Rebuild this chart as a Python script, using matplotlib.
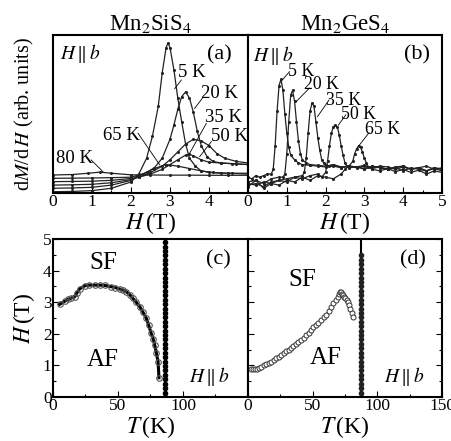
import matplotlib
matplotlib.use("Agg")
import matplotlib.pyplot as plt
import numpy as np
from matplotlib.ticker import MultipleLocator

plt.rcParams['font.family'] = 'serif'
plt.rcParams['font.serif'] = ['Liberation Serif', 'DejaVu Serif']
plt.rcParams['mathtext.fontset'] = 'stix'

# (a) Mn2SiS4, dM/dH vs H
a_temps = ['5 K', '20 K', '35 K', '50 K', '65 K', '80 K']
a_h = [
    [0, 0.5, 1.0, 1.5, 2.0, 2.2, 2.4, 2.55, 2.7, 2.8, 2.9, 2.95, 3.0, 3.1, 3.2, 3.3, 3.4, 3.5, 3.65, 3.8, 4.0, 4.3, 4.6, 5.0],
    [0, 0.5, 1.0, 1.5, 2.0, 2.2, 2.4, 2.6, 2.8, 3.0, 3.1, 3.2, 3.3, 3.4, 3.5, 3.6, 3.7, 3.8, 3.95, 4.1, 4.3, 4.6, 5.0],
    [0, 0.5, 1.0, 1.5, 2.0, 2.2, 2.5, 2.8, 3.0, 3.2, 3.4, 3.6, 3.8, 4.0, 4.2, 4.4, 4.7, 5.0],
    [0, 0.5, 1.0, 1.5, 2.0, 2.2, 2.5, 2.8, 3.0, 3.2, 3.4, 3.5, 3.6, 3.8, 4.0, 4.3, 4.7, 5.0],
    [0, 0.5, 1.0, 1.5, 2.0, 2.3, 2.6, 2.9, 3.2, 3.5, 3.8, 4.1, 4.5, 5.0],
    [0, 0.5, 0.9, 1.2, 1.5, 2.0, 2.5, 3.0, 3.5, 4.0, 4.5, 5.0],
]
a_y = [
    [0.008, 0.01, 0.015, 0.03, 0.07, 0.12, 0.22, 0.36, 0.55, 0.76, 0.92, 0.95, 0.92, 0.78, 0.60, 0.45, 0.31, 0.22, 0.17, 0.14, 0.13, 0.125, 0.125, 0.125],
    [0.03, 0.032, 0.036, 0.05, 0.08, 0.11, 0.13, 0.16, 0.22, 0.34, 0.43, 0.53, 0.61, 0.64, 0.60, 0.51, 0.39, 0.30, 0.23, 0.20, 0.19, 0.185, 0.18],
    [0.05, 0.052, 0.055, 0.065, 0.085, 0.10, 0.13, 0.17, 0.21, 0.26, 0.31, 0.34, 0.33, 0.30, 0.25, 0.22, 0.20, 0.19],
    [0.072, 0.073, 0.075, 0.08, 0.092, 0.10, 0.12, 0.15, 0.18, 0.21, 0.24, 0.245, 0.235, 0.21, 0.195, 0.19, 0.185, 0.18],
    [0.093, 0.094, 0.095, 0.097, 0.10, 0.12, 0.155, 0.18, 0.17, 0.155, 0.14, 0.13, 0.125, 0.12],
    [0.114, 0.117, 0.125, 0.132, 0.125, 0.115, 0.114, 0.113, 0.113, 0.112, 0.112, 0.112],
]
# label text position, leader start, leader end (H, arb.)
a_lab_xy = [(3.55, 0.76), (4.27, 0.63), (4.36, 0.48), (4.53, 0.356), (1.75, 0.367), (0.56, 0.22)]
a_lead = [((3.29, 0.715), (3.12, 0.66)), ((3.83, 0.60), (3.63, 0.535)), ((3.93, 0.44), (3.5, 0.25)),
          ((4.06, 0.325), (3.76, 0.23)), ((2.18, 0.378), (2.74, 0.177)), ((0.98, 0.209), (1.28, 0.135))]

# (b) Mn2GeS4, dM/dH vs H
b_temps = ['5 K', '20 K', '35 K', '50 K', '65 K']
b_h = [
    [0, 0.1, 0.2, 0.3, 0.4, 0.5, 0.6, 0.65, 0.7, 0.75, 0.8, 0.85, 0.9, 0.95, 1.0, 1.05, 1.1, 1.2, 1.3, 1.4, 1.6, 1.8, 2.0, 2.2, 2.4, 2.6, 2.8, 3.0, 3.2, 3.4, 3.6, 3.8, 4.0, 4.2, 4.4, 4.6, 4.8, 5.0],
    [0, 0.2, 0.4, 0.6, 0.8, 0.9, 0.95, 1.0, 1.05, 1.1, 1.15, 1.2, 1.25, 1.3, 1.35, 1.4, 1.5, 1.6, 1.8, 2.0, 2.2, 2.4, 2.6, 2.8, 3.0, 3.2, 3.4, 3.6, 3.8, 4.0, 4.2, 4.4, 4.6, 4.8, 5.0],
    [0, 0.2, 0.4, 0.6, 0.8, 1.0, 1.2, 1.4, 1.45, 1.5, 1.55, 1.6, 1.65, 1.7, 1.75, 1.8, 1.85, 1.9, 1.95, 2.0, 2.1, 2.2, 2.4, 2.6, 2.8, 3.0, 3.2, 3.4, 3.6, 3.8, 4.0, 4.2, 4.4, 4.6, 4.8, 5.0],
    [0, 0.2, 0.4, 0.6, 0.8, 1.0, 1.2, 1.4, 1.6, 1.8, 1.9, 2.0, 2.05, 2.1, 2.15, 2.2, 2.25, 2.3, 2.35, 2.4, 2.45, 2.5, 2.55, 2.6, 2.8, 3.0, 3.2, 3.4, 3.6, 3.8, 4.0, 4.2, 4.4, 4.6, 4.8, 5.0],
    [0, 0.2, 0.4, 0.6, 0.8, 1.0, 1.2, 1.4, 1.6, 1.8, 2.0, 2.2, 2.4, 2.5, 2.6, 2.7, 2.75, 2.8, 2.85, 2.9, 2.95, 3.0, 3.05, 3.1, 3.2, 3.4, 3.6, 3.8, 4.0, 4.2, 4.4, 4.6, 4.8, 5.0],
]
b_y = [
    [0.10, 0.09, 0.11, 0.10, 0.11, 0.12, 0.12, 0.15, 0.30, 0.52, 0.68, 0.72, 0.65, 0.50, 0.38, 0.29, 0.24, 0.21, 0.19, 0.18, 0.175, 0.17, 0.165, 0.17, 0.16, 0.17, 0.165, 0.175, 0.16, 0.17, 0.165, 0.15, 0.165, 0.15, 0.16, 0.14, 0.16, 0.15],
    [0.07, 0.08, 0.06, 0.09, 0.10, 0.10, 0.12, 0.25, 0.45, 0.62, 0.65, 0.58, 0.45, 0.33, 0.25, 0.21, 0.19, 0.18, 0.175, 0.17, 0.18, 0.165, 0.17, 0.16, 0.17, 0.155, 0.165, 0.15, 0.16, 0.17, 0.15, 0.16, 0.17, 0.15, 0.16],
    [0.06, 0.05, 0.07, 0.06, 0.08, 0.09, 0.10, 0.11, 0.13, 0.22, 0.38, 0.52, 0.57, 0.55, 0.45, 0.35, 0.27, 0.21, 0.19, 0.18, 0.17, 0.18, 0.16, 0.17, 0.165, 0.15, 0.17, 0.16, 0.15, 0.165, 0.17, 0.15, 0.16, 0.14, 0.16, 0.15],
    [0.05, 0.06, 0.04, 0.07, 0.08, 0.07, 0.10, 0.09, 0.11, 0.12, 0.10, 0.13, 0.20, 0.30, 0.38, 0.42, 0.43, 0.42, 0.37, 0.30, 0.24, 0.19, 0.17, 0.16, 0.165, 0.155, 0.17, 0.16, 0.15, 0.16, 0.14, 0.16, 0.15, 0.14, 0.155, 0.14],
    [0.04, 0.08, 0.03, 0.06, 0.05, 0.08, 0.07, 0.10, 0.08, 0.11, 0.10, 0.09, 0.12, 0.15, 0.17, 0.20, 0.25, 0.28, 0.30, 0.29, 0.26, 0.22, 0.19, 0.165, 0.15, 0.14, 0.155, 0.135, 0.15, 0.13, 0.145, 0.12, 0.14, 0.13],
]
b_lab_xy = [(1.37, 0.772), (1.89, 0.684), (2.46, 0.585), (2.84, 0.498), (3.46, 0.405)]
b_lead = [((1.07, 0.768), (0.9, 0.72)), ((1.58, 0.663), (1.24, 0.578)), ((2.09, 0.589), (1.79, 0.483)),
          ((2.52, 0.494), (2.33, 0.43)), ((3.12, 0.382), (2.86, 0.30))]

# (c) Mn2SiS4 phase diagram
c_T = [5.1, 9, 11.5, 14, 16.7, 18.5, 20.5, 24.4, 28, 32, 36, 40, 44.9, 48, 51.3, 54, 56.4, 59, 61.5, 64, 66.7, 69, 71.8, 73.5, 75.6, 77, 78.2, 79.5, 80.8, 81.5]
c_H = [2.93, 3.03, 3.09, 3.13, 3.17, 3.30, 3.42, 3.52, 3.54, 3.54, 3.54, 3.53, 3.49, 3.46, 3.42, 3.38, 3.33, 3.24, 3.12, 3.0, 2.86, 2.70, 2.49, 2.28, 2.01, 1.85, 1.65, 1.40, 1.12, 0.61]
c_TN = 85.9

# (d) Mn2GeS4 phase diagram
d_T = [2.6, 4, 5.5, 7, 8.5, 10.3, 12, 14, 16, 17.9, 20, 22, 23.8, 25.6, 27.5, 29.5, 31.4, 33.3, 35, 37, 39, 41, 43, 45, 47, 48.7, 50.5, 52.5, 54.5, 56.4, 58.5, 60.5, 62.3, 64.1, 66, 67.9, 69.5, 70.5, 71.3, 72, 72.8, 73.6, 74.4, 75.3, 76.2, 77.2, 78.2, 79.2, 80.3, 81.5]
d_H = [0.886, 0.886, 0.89, 0.90, 0.92, 0.96, 1.0, 1.06, 1.09, 1.12, 1.18, 1.23, 1.28, 1.33, 1.39, 1.45, 1.49, 1.54, 1.60, 1.67, 1.73, 1.80, 1.87, 1.95, 2.04, 2.12, 2.20, 2.27, 2.35, 2.44, 2.52, 2.61, 2.73, 2.86, 2.96, 3.07, 3.17, 3.25, 3.33, 3.31, 3.27, 3.22, 3.17, 3.12, 3.06, 3.0, 2.91, 2.80, 2.67, 2.54]
d_TN = 87.2

tn_h = np.arange(0, 5.01, 0.14)

fig = plt.figure(figsize=(4.52, 4.41), dpi=100)
W, Hh = 452.0, 441.0
ax_a = fig.add_axes([53 / W, 1 - 193 / Hh, 195 / W, 158 / Hh])
ax_b = fig.add_axes([248 / W, 1 - 193 / Hh, 194 / W, 158 / Hh])
ax_c = fig.add_axes([53 / W, 1 - 397 / Hh, 195 / W, 158 / Hh])
ax_d = fig.add_axes([248 / W, 1 - 397 / Hh, 194 / W, 158 / Hh])

for ax in (ax_a, ax_b, ax_c, ax_d):
    for s in ax.spines.values():
        s.set_linewidth(1.5)
    ax.tick_params(which='both', direction='in', labelsize=12.5, width=0.8)
    ax.tick_params(which='major', length=4)
    ax.tick_params(which='minor', length=2.5)

lab_fs = 13.5
hb = r"$H\,\|\,b$"

# panel (a)
for h, y in zip(a_h, a_y):
    ax_a.plot(h, y, color='#222222', lw=0.9, marker='o', ms=1.2)
for t, xy, (p0, p1) in zip(a_temps, a_lab_xy, a_lead):
    ax_a.text(xy[0], xy[1], t, fontsize=lab_fs, ha='center', va='center')
    ax_a.plot([p0[0], p1[0]], [p0[1], p1[1]], color='black', lw=0.6)
ax_a.set_xlim(0, 5)
ax_a.set_ylim(0, 1)
ax_a.set_yticks([])
ax_a.xaxis.set_major_locator(MultipleLocator(1))
ax_a.xaxis.set_minor_locator(MultipleLocator(0.5))
ax_a.set_xticks([0, 1, 2, 3, 4])
ax_a.tick_params(axis='x', pad=1)
ax_a.text(0.69, 0.884, hb, fontsize=14, ha='center', va='center')
ax_a.text(4.27, 0.873, '(a)', fontsize=16, ha='center', va='center')
ax_a.set_title(r"Mn$_2$SiS$_4$", fontsize=16.5, pad=3)
ax_a.set_xlabel(r"$H\,$(T)", fontsize=17, labelpad=0)
ax_a.set_ylabel(r"d$M$/d$\,H$ (arb. units)", fontsize=14.5, labelpad=12)

# panel (b)
for h, y in zip(b_h, b_y):
    ax_b.plot(h, y, color='#222222', lw=0.9, marker='o', ms=1.2)
for t, xy, (p0, p1) in zip(b_temps, b_lab_xy, b_lead):
    ax_b.text(xy[0], xy[1], t, fontsize=12.8, ha='center', va='center')
    ax_b.plot([p0[0], p1[0]], [p0[1], p1[1]], color='black', lw=0.6)
ax_b.set_xlim(0, 5)
ax_b.set_ylim(0, 1)
ax_b.set_yticks([])
ax_b.xaxis.set_major_locator(MultipleLocator(1))
ax_b.xaxis.set_minor_locator(MultipleLocator(0.5))
ax_b.tick_params(axis='x', pad=1)
ax_b.text(0.64, 0.873, hb, fontsize=14, ha='center', va='center')
ax_b.text(4.36, 0.873, '(b)', fontsize=16, ha='center', va='center')
ax_b.set_title(r"Mn$_2$GeS$_4$", fontsize=16.5, pad=3)
ax_b.set_xlabel(r"$H\,$(T)", fontsize=17, labelpad=0)

# panel (c)
ax_c.plot(c_T, c_H, color='black', lw=2.2, zorder=2)
ax_c.plot(c_T, c_H, ls='none', marker='o', ms=4, mfc='none', mec='#555555', mew=0.8, zorder=3)
ax_c.plot([c_TN] * len(tn_h), tn_h, color='black', lw=2.2, marker='o', ms=3)
ax_c.axvline(c_TN, color='black', lw=2.2)
ax_c.set_xlim(0, 150)
ax_c.set_ylim(0, 5)
ax_c.xaxis.set_major_locator(MultipleLocator(50))
ax_c.xaxis.set_minor_locator(MultipleLocator(25))
ax_c.set_xticks([0, 50, 100])
ax_c.yaxis.set_major_locator(MultipleLocator(1))
ax_c.yaxis.set_minor_locator(MultipleLocator(0.5))
ax_c.tick_params(axis='both', pad=1)
ax_c.text(127, 4.34, '(c)', fontsize=16, ha='center', va='center')
ax_c.text(38.5, 4.23, 'SF', fontsize=18, ha='center', va='center')
ax_c.text(38.5, 1.17, 'AF', fontsize=18, ha='center', va='center')
ax_c.text(120.5, 0.64, hb, fontsize=14, ha='center', va='center')
ax_c.set_xlabel(r"$T\,$(K)", fontsize=17, labelpad=0)
ax_c.set_ylabel(r"$H\,$(T)", fontsize=17, labelpad=4)

# panel (d)
ax_d.plot(d_T, d_H, color='black', lw=0.6, marker='o', ms=3.6, mfc='white', mec='#333333', mew=0.7)
ax_d.axvline(d_TN, color='black', lw=1.5)
ax_d.plot([d_TN] * len(tn_h[tn_h <= 4.5]), tn_h[tn_h <= 4.5], ls='none', marker='o', ms=3, color='#222222')
ax_d.set_xlim(0, 150)
ax_d.set_ylim(0, 5)
ax_d.xaxis.set_major_locator(MultipleLocator(50))
ax_d.xaxis.set_minor_locator(MultipleLocator(25))
ax_d.yaxis.set_major_locator(MultipleLocator(1))
ax_d.yaxis.set_minor_locator(MultipleLocator(0.5))
ax_d.tick_params(axis='y', right=True, which='both', labelleft=False)
ax_d.tick_params(axis='x', pad=1)
ax_d.text(127.7, 4.34, '(d)', fontsize=16, ha='center', va='center')
ax_d.text(42.3, 3.7, 'SF', fontsize=18, ha='center', va='center')
ax_d.text(60.2, 1.22, 'AF', fontsize=18, ha='center', va='center')
ax_d.text(120.5, 0.64, hb, fontsize=14, ha='center', va='center')
ax_d.set_xlabel(r"$T\,$(K)", fontsize=17, labelpad=0)

fig.savefig('out.png', dpi=100)
